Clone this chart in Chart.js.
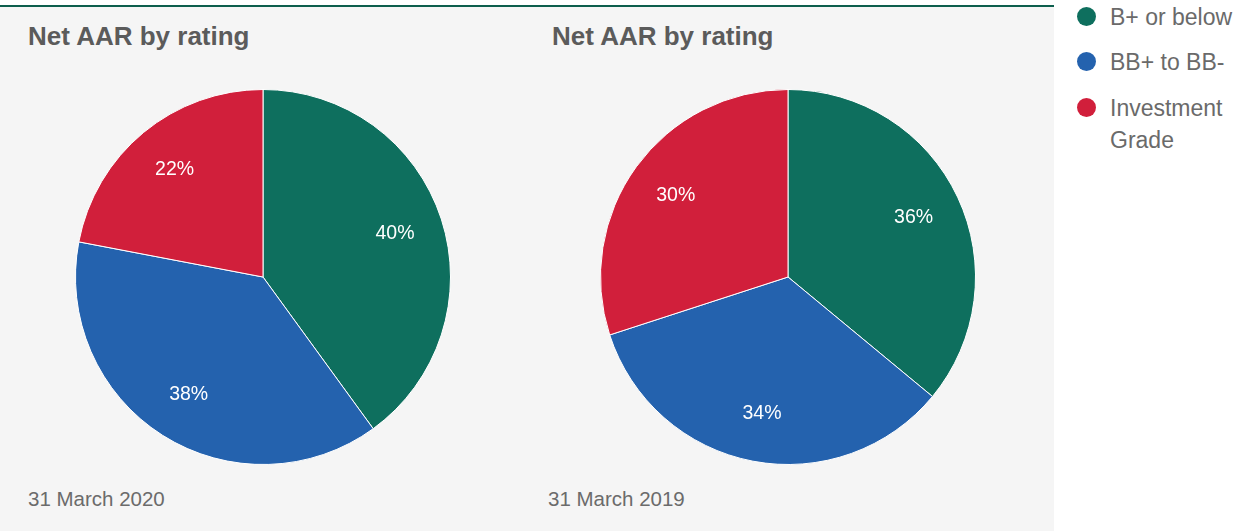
<!DOCTYPE html>
<html>
<head>
<meta charset="utf-8">
<script src="https://cdn.jsdelivr.net/npm/chart.js@4.4.1/dist/chart.umd.min.js"></script>
<style>
  html, body { margin: 0; padding: 0; background: #ffffff; width: 1247px; height: 531px; overflow: hidden; }
  body { position: relative; font-family: "Liberation Sans", Arial, Helvetica, sans-serif; }
  .panel { position: absolute; left: 0; top: 5px; width: 1054px; height: 526px; background: #f5f5f5; border-top: 2px solid #0d5e4d; box-sizing: border-box; }
  .title { position: absolute; font-size: 26px; line-height: 26px; font-weight: bold; color: #5b5b5b; white-space: nowrap; }
  .date { position: absolute; font-size: 20.5px; line-height: 20px; color: #6b6b6b; white-space: nowrap; }
  .pie { position: absolute; width: 380px; height: 380px; }
  .legend { position: absolute; left: 1076px; top: 0; }
  .legend .item { position: absolute; left: 0; white-space: nowrap; font-size: 23px; line-height: 32px; color: #6a6a6a; }
  .legend .dot { position: absolute; left: 1px; width: 19px; height: 19px; border-radius: 50%; }
  .legend .lbl { position: absolute; left: 34px; }
</style>
</head>
<body>
<div class="panel"></div>

<div class="title" style="left:28px; top:23px;">Net AAR by rating</div>
<div class="title" style="left:552px; top:23px;">Net AAR by rating</div>

<div class="pie" style="left:73px; top:87px;"><canvas id="pie2020" width="380" height="380"></canvas></div>
<div class="pie" style="left:598px; top:87px;"><canvas id="pie2019" width="380" height="380"></canvas></div>

<div class="date" style="left:28px; top:489px;">31 March 2020</div>
<div class="date" style="left:548px; top:489px;">31 March 2019</div>

<div class="legend" id="legend"></div>

<script>
// Rating buckets and the share of net AAR in each, per year end
const categories = ['B+ or below', 'BB+ to BB-', 'Investment Grade'];
const legendLines = [['B+ or below'], ['BB+ to BB-'], ['Investment', 'Grade']];
const colors = ['#0e6f5e', '#2462ae', '#d11f3b'];
const values2020 = [40, 38, 22];
const values2019 = [36, 34, 30];

// Legend on the right
const legendEl = document.getElementById('legend');
const legendTops = [1, 46, 92];
legendLines.forEach((lines, i) => {
  const item = document.createElement('div');
  item.className = 'item';
  item.style.top = legendTops[i] + 'px';
  const dot = document.createElement('div');
  dot.className = 'dot';
  dot.style.top = '6px';
  dot.style.background = colors[i];
  const lbl = document.createElement('div');
  lbl.className = 'lbl';
  lbl.innerHTML = lines.join('<br>');
  item.appendChild(dot);
  item.appendChild(lbl);
  legendEl.appendChild(item);
});

// Percentage labels drawn inside each slice
const sliceLabels = {
  id: 'sliceLabels',
  afterDatasetsDraw(chart) {
    const ctx = chart.ctx;
    const meta = chart.getDatasetMeta(0);
    const data = chart.data.datasets[0].data;
    ctx.save();
    ctx.fillStyle = '#ffffff';
    ctx.font = '19.5px "Liberation Sans", Arial, sans-serif';
    ctx.textAlign = 'center';
    ctx.textBaseline = 'middle';
    meta.data.forEach((arc, i) => {
      const p = arc.getProps(['x', 'y', 'startAngle', 'endAngle', 'outerRadius'], true);
      const mid = (p.startAngle + p.endAngle) / 2;
      const r = p.outerRadius * 0.74;
      ctx.fillText(data[i] + '%', p.x + Math.cos(mid) * r, p.y + Math.sin(mid) * r);
    });
    ctx.restore();
  }
};

function makePie(id, values) {
  new Chart(document.getElementById(id), {
    type: 'pie',
    data: {
      labels: categories,
      datasets: [{
        data: values,
        backgroundColor: colors,
        borderColor: '#ffffff',
        borderWidth: 1,
        hoverOffset: 0
      }]
    },
    options: {
      responsive: false,
      animation: false,
      layout: { padding: 2 },
      plugins: { legend: { display: false }, tooltip: { enabled: false } },
      events: []
    },
    plugins: [sliceLabels]
  });
}

makePie('pie2020', values2020);
makePie('pie2019', values2019);
</script>
</body>
</html>
